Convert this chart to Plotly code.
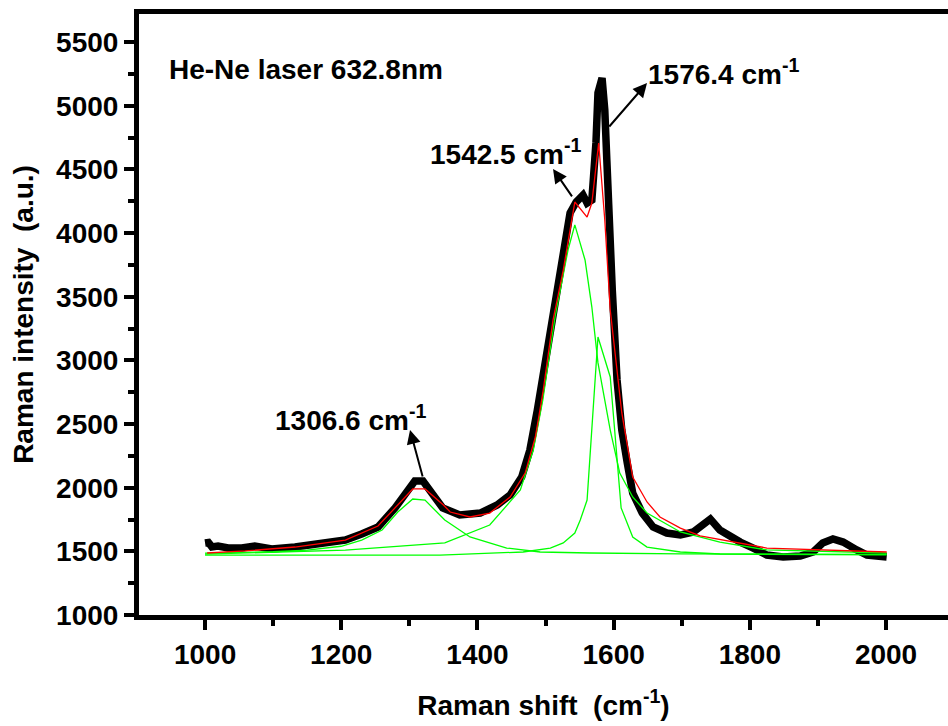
import plotly.graph_objects as go

# Measured spectrum (black)
spec_x = [1000, 1005, 1010, 1019, 1034, 1054, 1073, 1098, 1132, 1172, 1206, 1230, 1254, 1279, 1294,
          1308, 1320, 1333, 1349, 1374, 1404, 1429, 1448, 1465, 1477, 1488, 1496, 1507, 1517, 1526,
          1536, 1545, 1555, 1561, 1568, 1574, 1577, 1583, 1587, 1590, 1593, 1598, 1605, 1612, 1620,
          1628, 1642, 1658, 1678, 1698, 1717, 1742, 1756, 1771, 1786, 1805, 1825, 1849, 1874, 1893,
          1907, 1922, 1937, 1957, 1972, 2001]
spec_y = [1566, 1570, 1535, 1542, 1526, 1526, 1542, 1518, 1534, 1558, 1589, 1636, 1691, 1841, 1958,
          2053, 2053, 1966, 1841, 1786, 1801, 1864, 1943, 2084, 2296, 2610, 2870, 3239, 3608, 3867,
          4158, 4244, 4299, 4236, 4260, 4708, 5101, 5218, 4967, 4574, 4048, 3553, 2846, 2453, 2194,
          1958, 1801, 1691, 1644, 1628, 1652, 1754, 1668, 1613, 1573, 1526, 1471, 1456, 1463, 1495,
          1566, 1597, 1573, 1511, 1471, 1456]

# Cumulative fit (red)
fit_x = [1003, 1059, 1132, 1206, 1254, 1283, 1305, 1323, 1350, 1360, 1389, 1418, 1448, 1470, 1485,
         1496, 1511, 1526, 1543, 1561, 1568, 1578, 1587, 1595, 1612, 1628, 1649, 1668, 1698, 1727,
         1760, 1825, 2001]
fit_y = [1487, 1503, 1534, 1589, 1699, 1864, 1990, 1990, 1864, 1809, 1770, 1801, 1927, 2115, 2398,
         2744, 3317, 3710, 4244, 4126, 4236, 4708, 4103, 3396, 2587, 2084, 1888, 1770, 1683, 1621,
         1589, 1526, 1495]

# Fitted components (green)
c1_x = [1000, 1100, 1150, 1200, 1230, 1260, 1283, 1305, 1323, 1352, 1389, 1443, 1492, 1565, 1700, 2001]
c1_y = [1486, 1497, 1510, 1540, 1589, 1668, 1809, 1911, 1903, 1746, 1613, 1526, 1495, 1487, 1480, 1476]

c2_x = [1000, 1206, 1352, 1418, 1463, 1482, 1496, 1514, 1533, 1543, 1558, 1568, 1577, 1595, 1609,
        1628, 1649, 1698, 1756, 1825, 2001]
c2_y = [1478, 1510, 1566, 1707, 1982, 2296, 2689, 3341, 3867, 4064, 3789, 3419, 2980, 2453, 2115,
        1927, 1801, 1652, 1573, 1511, 1487]

c3_x = [1000, 1345, 1467, 1507, 1526, 1543, 1551, 1561, 1577, 1595, 1611, 1628, 1649, 1698, 1756, 2001]
c3_y = [1470, 1471, 1495, 1526, 1566, 1644, 1746, 1903, 3184, 2870, 1841, 1613, 1534, 1495, 1479, 1472]

x_ticks = [1000, 1200, 1400, 1600, 1800, 2000]
y_ticks = [1000, 1500, 2000, 2500, 3000, 3500, 4000, 4500, 5000, 5500]

FONT = "Liberation Sans, Arial, sans-serif"
FS = 28

fig = go.Figure()
fig.add_trace(go.Scatter(x=spec_x, y=spec_y, mode="lines",
                         line=dict(color="black", width=7.5), name="spectrum"))
for cx, cy, nm in [(c1_x, c1_y, "1306.6"), (c2_x, c2_y, "1542.5"), (c3_x, c3_y, "1576.4")]:
    fig.add_trace(go.Scatter(x=cx, y=cy, mode="lines",
                             line=dict(color="#00ff00", width=1.3), name=nm))
fig.add_trace(go.Scatter(x=fit_x, y=fit_y, mode="lines",
                         line=dict(color="#ff0000", width=1.3), name="fit"))

tickfont = dict(family=FONT, size=FS, color="black", weight="bold")

fig.update_layout(
    width=948, height=726,
    margin=dict(l=139, r=0, t=14, b=111),
    plot_bgcolor="white", paper_bgcolor="white",
    showlegend=False,
    font=dict(family=FONT, color="black"),
    xaxis=dict(
        range=[903, 2091], tickvals=x_ticks, ticks="outside", ticklen=10, tickwidth=4,
        tickcolor="black", showline=True, linewidth=5, linecolor="black", mirror=True,
        showgrid=False, zeroline=False, tickfont=tickfont,
        minor=dict(dtick=100, tick0=1000, ticks="outside", ticklen=6, tickwidth=4, tickcolor="black"),
        title=dict(text="Raman shift&nbsp;&nbsp;(cm<sup>-1</sup>)", standoff=28,
                   font=dict(family=FONT, size=FS, color="black", weight="bold")),
    ),
    yaxis=dict(
        range=[1000, 5721], tickvals=y_ticks, ticks="outside", ticklen=10, tickwidth=4,
        tickcolor="black", showline=True, linewidth=5, linecolor="black", mirror=False,
        showgrid=False, zeroline=False, tickfont=tickfont,
        minor=dict(dtick=250, tick0=1000, ticks="outside", ticklen=6, tickwidth=4, tickcolor="black"),
        title=dict(text="Raman intensity&nbsp;&nbsp;(a.u.)", standoff=16,
                   font=dict(family=FONT, size=FS, color="black", weight="bold")),
    ),
)

afont = dict(family=FONT, size=FS, color="black", weight="bold")
# text labels
labels = [
    (944, 5289, "He-Ne laser 632.8nm", "left"),
    (1214, 2548, "1306.6 cm<sup>-1</sup>", "center"),
    (1441, 4637, "1542.5 cm<sup>-1</sup>", "center"),
    (1762, 5265, "1576.4 cm<sup>-1</sup>", "center"),
]
for lx, ly, txt, anc in labels:
    fig.add_annotation(x=lx, y=ly, text=txt, showarrow=False, xanchor=anc, yanchor="middle", font=afont)

# arrows (head at x,y; tail offset in pixels)
arrows = [(1301, 2453, 13, 48), (1511, 4504, 20, 29), (1649, 5179, -39, 45)]
for hx, hy, axp, ayp in arrows:
    fig.add_annotation(x=hx, y=hy, ax=axp, ay=ayp, text="", showarrow=True,
                       arrowhead=2, arrowsize=1.4, arrowwidth=2, arrowcolor="black")

fig.write_html("out.html")
